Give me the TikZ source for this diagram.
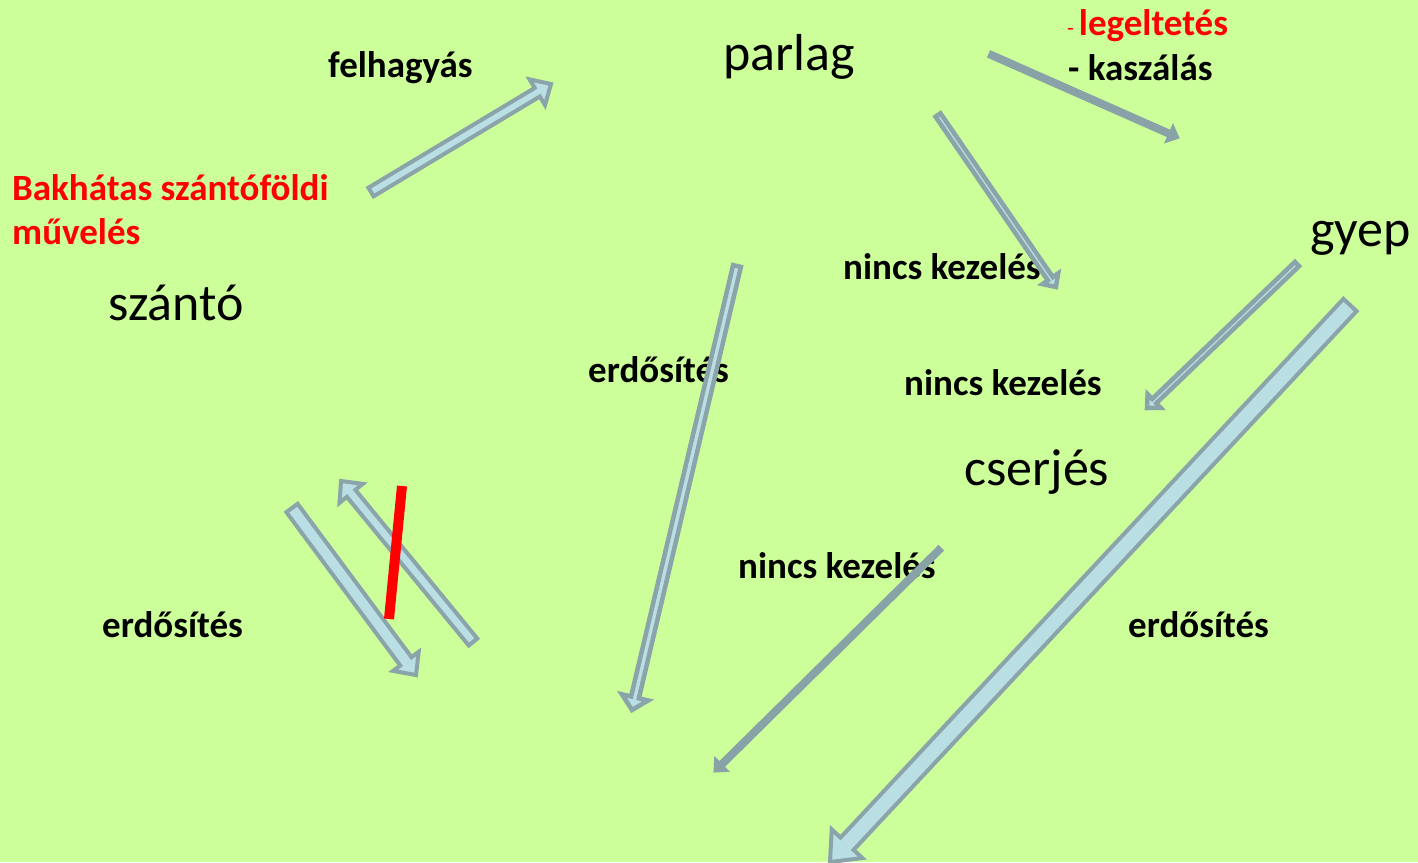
\documentclass[tikz,border=0pt]{standalone}
\usepackage{fontspec}
\setmainfont{Carlito}
\usetikzlibrary{calc}
\definecolor{bg}{RGB}{204,255,153}
\definecolor{afill}{RGB}{185,223,229}
\definecolor{aline}{RGB}{138,164,170}
\definecolor{sgray}{RGB}{136,162,168}
\definecolor{redtxt}{RGB}{255,0,0}
% #1 style, #2 tail, #3 tip, #4 shaft half width, #5 head half width, #6 head length
\newcommand\blockarrow[6]{%
  \coordinate (tmpH) at ($(#3)!#6!(#2)$);
  \draw[#1] ($(#2)!#4!90:(#3)$) -- ($(tmpH)!#4!90:(#3)$) -- ($(tmpH)!#5!90:(#3)$)
    -- (#3) -- ($(tmpH)!#5!-90:(#3)$) -- ($(tmpH)!#4!-90:(#3)$) -- ($(#2)!#4!-90:(#3)$) -- cycle;}
\begin{document}
\begin{tikzpicture}[x=1pt,y=-1pt,
  light/.style={fill=afill,draw=aline,line width=4pt,line join=miter},
  thinlight/.style={fill=afill,draw=aline,line width=4.5pt,line join=miter},
  solidar/.style={fill=sgray,draw=sgray,line width=1pt,line join=miter},
  lbl/.style={font=\fontsize{37}{44}\selectfont\bfseries,inner sep=0pt,anchor=base west},
  big/.style={font=\fontsize{52}{62}\selectfont,inner sep=0pt,anchor=base west},
  redlbl/.style={lbl,text=redtxt}]
\useasboundingbox (0,0) rectangle (1418,862);
\clip (0,0) rectangle (1418,862);
\fill[bg] (0,0) rectangle (1418,862);

% texts
\node[lbl] (felh) at (328,77) {felhagyás};
\node[big] (parlag) at (723,70) {parlag};
\node[redlbl] (leg) at (1067,35) {{\fontsize{22}{26}\selectfont\mdseries -}\hspace{5pt}legeltetés};
\node[lbl] (kasz) at (1068,80) {- kaszálás};
\node[redlbl] (bak1) at (12,200) {Bakhátas szántóföldi};
\node[redlbl] (bak2) at (12,244) {művelés};
\node[big] (szanto) at (108,320) {szántó};
\node[big] (gyep) at (1310,246) {gyep};
\node[lbl] (nk1) at (843,279) {nincs kezelés};
\node[lbl] (erd1) at (588,382) {erdősítés};
\node[lbl] (nk2) at (904,395) {nincs kezelés};
\node[big] (cserjes) at (964,485) {cserjés};
\node[lbl] (nk3) at (738,578) {nincs kezelés};
\node[lbl] (erd2) at (102,637) {erdősítés};
\node[lbl] (erd3) at (1128,637) {erdősítés};

% arrow end points
\coordinate (a1) at (371,192); \coordinate (b1) at (551,84);
\coordinate (a2) at (989,54);  \coordinate (b2) at (1179,138);
\coordinate (a3) at (938,115); \coordinate (b3) at (1056,287);
\coordinate (a4) at (1297,264); \coordinate (b4) at (1147,408);
\coordinate (a5) at (1350,305); \coordinate (b5) at (830,862);
\coordinate (a6) at (941,548); \coordinate (b6) at (714,772);
\coordinate (a7) at (737,266); \coordinate (b7) at (632,710);
\coordinate (a8) at (292,508); \coordinate (b8) at (416,675);
\coordinate (a9) at (473,642); \coordinate (b9) at (341,481);
\coordinate (r1) at (402,486); \coordinate (r2) at (389,619);

\blockarrow{light}{a1}{b1}{5pt}{15pt}{16pt}
\blockarrow{solidar}{a2}{b2}{3.5pt}{10pt}{11pt}
\blockarrow{thinlight}{a3}{b3}{3pt}{9.5pt}{10pt}
\blockarrow{thinlight}{a4}{b4}{3pt}{9.5pt}{10pt}
\blockarrow{light}{a5}{b5}{9pt}{21pt}{25pt}
\blockarrow{solidar}{a6}{b6}{3.5pt}{10pt}{11pt}
\blockarrow{thinlight}{a7}{b7}{4pt}{13.5pt}{13pt}
\blockarrow{light}{a8}{b8}{7pt}{16pt}{17pt}
\blockarrow{light}{a9}{b9}{5.5pt}{15pt}{16pt}
\draw[red,line width=10pt] (r1) -- (r2);
\end{tikzpicture}
\end{document}
